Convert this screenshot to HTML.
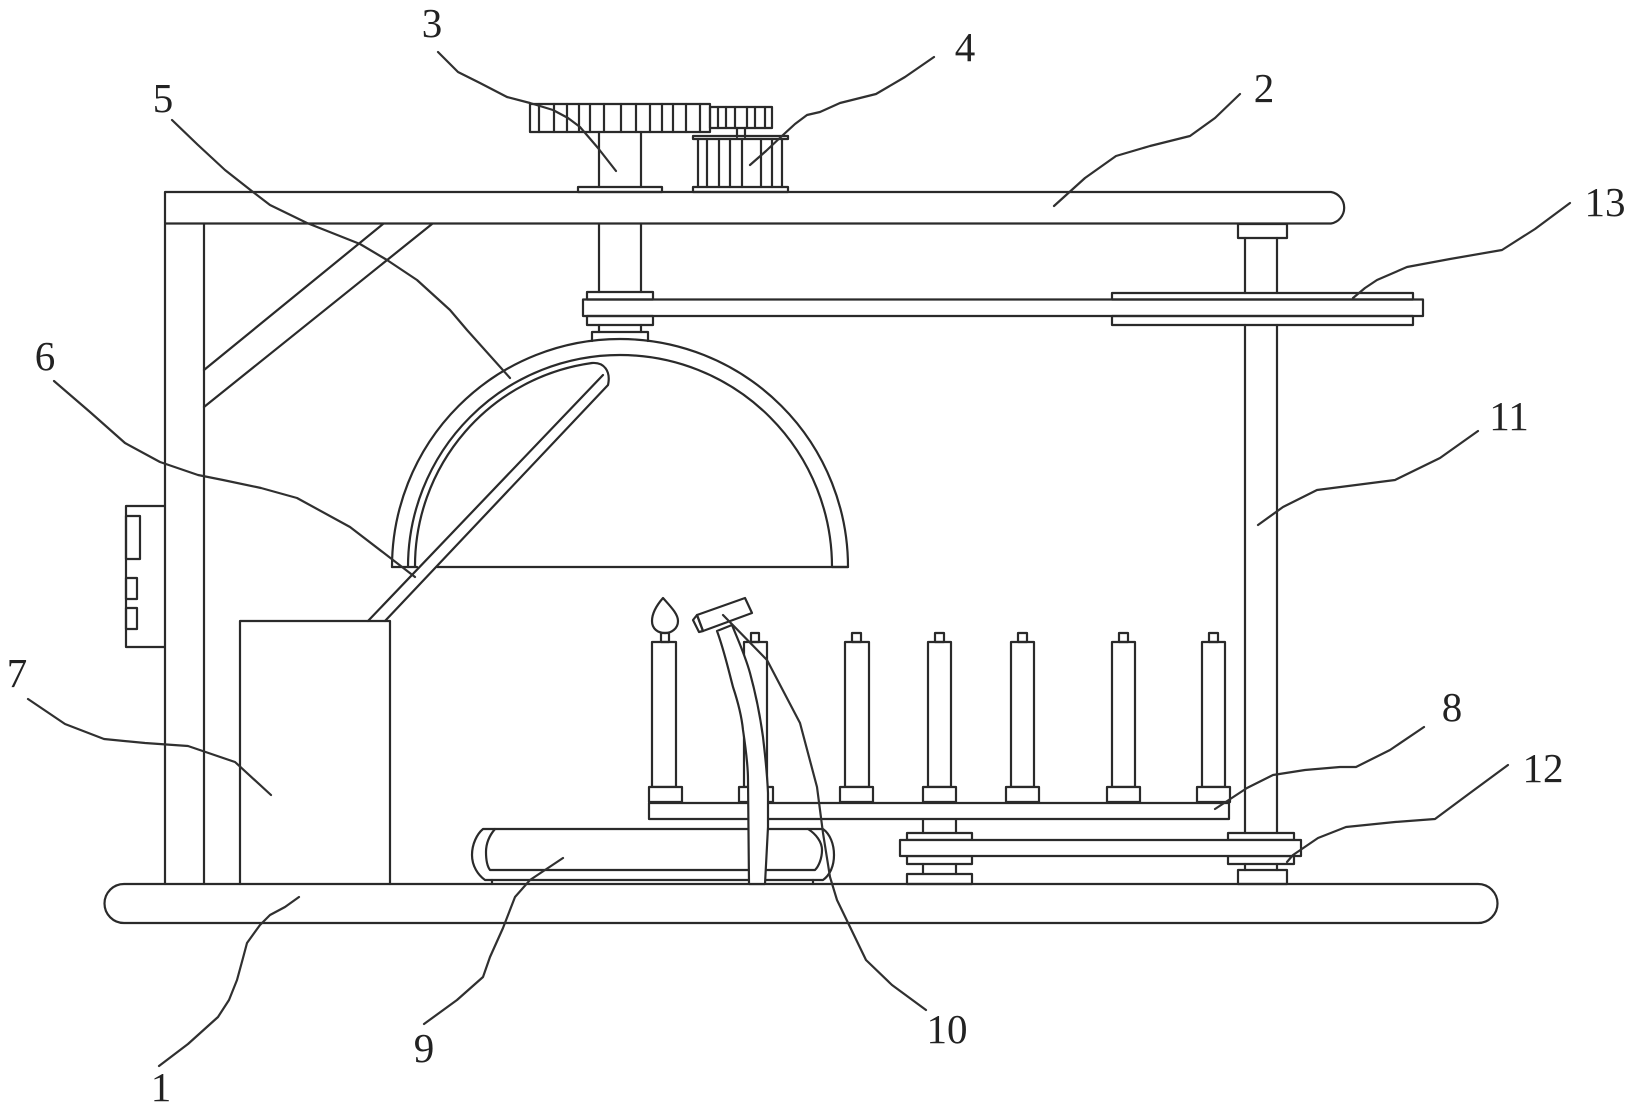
<!DOCTYPE html>
<html>
<head>
<meta charset="utf-8">
<style>
html,body{margin:0;padding:0;background:#fff}
svg{display:block}
.s{fill:none;stroke:#2a2a2a;stroke-width:2.2;stroke-linejoin:round;stroke-linecap:round}
.w{fill:#fff;stroke:#2a2a2a;stroke-width:2.2;stroke-linejoin:round}
.l{fill:none;stroke:#303030;stroke-width:2.2;stroke-linejoin:round;stroke-linecap:round}
text{font-family:"Liberation Serif",serif;font-size:41px;fill:#222;text-anchor:middle}
</style>
</head>
<body>
<svg width="1636" height="1115" viewBox="0 0 1636 1115" xmlns="http://www.w3.org/2000/svg">
<rect width="1636" height="1115" fill="#fff"/>

<!-- frame -->
<path class="s" d="M165,192 H1331 A16,16 0 0 1 1331,223.500 H165 Z"/>
<path class="s" d="M165,224 V884 M204,224 V884"/>
<path class="s" d="M383,224 L204,370 M432,224 L204,407"/>
<!-- base -->
<path class="s" d="M124,884 H1478 A19.500,19.500 0 0 1 1478,923 H124 A19.500,19.500 0 0 1 124,884 Z"/>
<!-- control box -->
<path class="s" d="M164,506 H126 V647 H164"/>
<rect class="s" x="126" y="516" width="14" height="43"/>
<rect class="s" x="126" y="578" width="11" height="21"/>
<rect class="s" x="126" y="608" width="11" height="21"/>
<!-- box 7 -->
<path class="s" d="M240,884 V621 H390 V884"/>

<!-- gear 3 -->
<rect class="s" x="530" y="104" width="180" height="28"/>
<path class="s" d="M539,104V132M554,104V132M567,104V132M579,104V132M590,104V132M604,104V132M621,104V132M636,104V132M650,104V132M662,104V132M673,104V132M686,104V132M700,104V132"/>
<rect class="s" x="710" y="107" width="62" height="21"/>
<path class="s" d="M718,107V128M726,107V128M735,107V128M747,107V128M755,107V128M765,107V128"/>
<path class="s" d="M599,132V187M641,132V187"/>
<rect class="s" x="578" y="187" width="84" height="5"/>
<!-- motor 4 -->
<path class="s" d="M737,128V137M745,128V137"/>
<rect class="s" x="693" y="136" width="95" height="3"/>
<path class="s" d="M698,139V187M707,139V187M719,139V187M730,139V187M742,139V187M761,139V187M772,139V187M782,139V187"/>
<rect class="s" x="693" y="187" width="95" height="5"/>

<!-- shaft under bar + upper belt -->
<path class="s" d="M599,224V292M641,224V292"/>
<rect class="s" x="587" y="292" width="66" height="7.500"/>
<rect class="s" x="587" y="316" width="66" height="9"/>
<path class="s" d="M599,325V332M641,325V332"/>
<path class="s" d="M592,341V332H648V341"/>
<!-- right shaft -->
<rect class="s" x="1238" y="224" width="49" height="14"/>
<path class="s" d="M1245,238V293M1277,238V293M1245,325V833M1277,325V833"/>
<rect class="s" x="1112" y="293" width="301" height="6.500"/>
<rect class="s" x="1112" y="316" width="301" height="9"/>
<path class="s" d="M653,299.500 H583 V316 H1423 V299.500 H653"/>

<!-- dome -->
<path class="s" d="M392,567 A228,228 0 0 1 848,567 H832 A212,212 0 0 0 408,567"/>
<path class="s" d="M392,567 H417 M437,567 H848"/>
<!-- chute -->
<path class="s" d="M415,567 A205,205 0 0 1 592,363 C604,362 611,371 608,385 L385,621"/>
<path class="s" d="M603,375 L368,621"/>

<!-- lower belt and plate -->
<path class="s" d="M923,819V833M956,819V833M923,864V874M956,864V874"/>
<rect class="s" x="907" y="874" width="65" height="10"/>
<path class="s" d="M1245,864V870M1277,864V870"/>
<rect class="s" x="1238" y="870" width="49" height="14"/>
<rect class="s" x="907" y="833" width="65" height="7"/>
<rect class="s" x="907" y="856" width="65" height="8"/>
<rect class="s" x="1228" y="833" width="66" height="7"/>
<rect class="s" x="1228" y="856" width="66" height="8"/>
<rect class="w" x="900" y="840" width="401" height="16"/>
<rect class="w" x="649" y="803" width="580" height="16"/>

<!-- cylinders -->
<g>
<rect class="w" x="652" y="642" width="24" height="145"/><rect class="s" x="661" y="633" width="8" height="9"/><rect class="w" x="649" y="787" width="33" height="15"/>
<rect class="w" x="744" y="642" width="23" height="145"/><rect class="s" x="751" y="633" width="8" height="9"/><rect class="w" x="739" y="787" width="34" height="15"/>
<rect class="w" x="845" y="642" width="24" height="145"/><rect class="s" x="852" y="633" width="9" height="9"/><rect class="w" x="840" y="787" width="33" height="15"/>
<rect class="w" x="928" y="642" width="23" height="145"/><rect class="s" x="935" y="633" width="9" height="9"/><rect class="w" x="923" y="787" width="33" height="15"/>
<rect class="w" x="1011" y="642" width="23" height="145"/><rect class="s" x="1018" y="633" width="9" height="9"/><rect class="w" x="1006" y="787" width="33" height="15"/>
<rect class="w" x="1112" y="642" width="23" height="145"/><rect class="s" x="1119" y="633" width="9" height="9"/><rect class="w" x="1107" y="787" width="33" height="15"/>
<rect class="w" x="1202" y="642" width="23" height="145"/><rect class="s" x="1209" y="633" width="9" height="9"/><rect class="w" x="1197" y="787" width="33" height="15"/>
</g>
<!-- flame -->
<path class="s" d="M663,598 C671,607 678,614 678,621 C678,629 671,633 665,633 C658,633 652,629 652,621 C652,614 656,606 663,598 Z"/>

<!-- conveyor 9 -->
<path class="s" d="M483,829 H823 C830,834 834,844 834,855 C834,866 830,875 823,880 H485 C478,875 472,866 472,855 C472,844 477,834 483,829 Z"/>
<path class="s" d="M495,829 C489,836 486,844 486,852 C486,860 487,866 490,870 H815 C819,866 822,858 822,850 C822,842 816,834 808,829"/>
<path class="s" d="M492,880V884M813,880V884"/>

<!-- hose + nozzle -->
<path class="w" d="M717,631 C724,650 728,668 733,687 C739,705 742,720 743,730 C746,750 748,765 748,780 L749,884 L765,884 L768,827 L768,793 C767,770 765,755 763,737 C760,715 756,695 750,673 C745,655 738,640 732,625 Z"/>
<path class="w" d="M697,615 L745,598 L752,613 L703,631 Z"/>
<path class="s" d="M693,620 L697,615 L703,631 L699,632 Z"/>

<!-- leaders -->
<polyline class="l" points="159,1066 188,1044 218,1017 229,1000 237,980 243,958 247,943 260,925 270,915 285,907 299,897"/>
<polyline class="l" points="438,52 458,72 480,83 507,97 530,103 553,110 568,118 580,127 598,148 616,171"/>
<polyline class="l" points="934,57 905,77 876,94 840,103 820,112 807,115 795,124 783,135 766,151 750,165"/>
<polyline class="l" points="1240,94 1215,118 1190,136 1150,146 1116,156 1085,178 1054,206"/>
<polyline class="l" points="1570,203 1535,229 1502,250 1450,259 1407,267 1377,280 1365,288 1353,298"/>
<polyline class="l" points="172,120 198,145 225,170 253,192 270,205 307,223 360,244 387,260 417,280 450,310 467,330 510,378"/>
<polyline class="l" points="54,381 90,412 125,443 160,462 198,475 223,480 261,488 297,498 350,527 393,560 415,577"/>
<polyline class="l" points="28,699 65,724 104,739 145,743 188,746 235,762 271,795"/>
<polyline class="l" points="1424,727 1390,750 1356,767 1340,767 1305,770 1273,775 1247,788 1215,809"/>
<polyline class="l" points="1508,765 1470,793 1435,819 1395,822 1346,827 1318,838 1293,855 1287,862"/>
<polyline class="l" points="563,858 530,880 515,897 503,928 490,957 483,977 457,1000 424,1024"/>
<polyline class="l" points="723,615 767,660 800,723 817,787 823,833 830,877 837,900 866,960 892,985 926,1010"/>
<polyline class="l" points="1258,525 1283,507 1317,490 1395,480 1440,458 1478,431"/>

<!-- labels -->
<text x="161" y="1101">1</text>
<text x="1264" y="102">2</text>
<text x="432" y="37">3</text>
<text x="965" y="61">4</text>
<text x="163" y="112">5</text>
<text x="45" y="370">6</text>
<text x="17" y="687">7</text>
<text x="1452" y="721">8</text>
<text x="424" y="1062">9</text>
<text x="947" y="1043">10</text>
<text x="1509" y="430">11</text>
<text x="1543" y="782">12</text>
<text x="1605" y="216">13</text>
</svg>
</body>
</html>
